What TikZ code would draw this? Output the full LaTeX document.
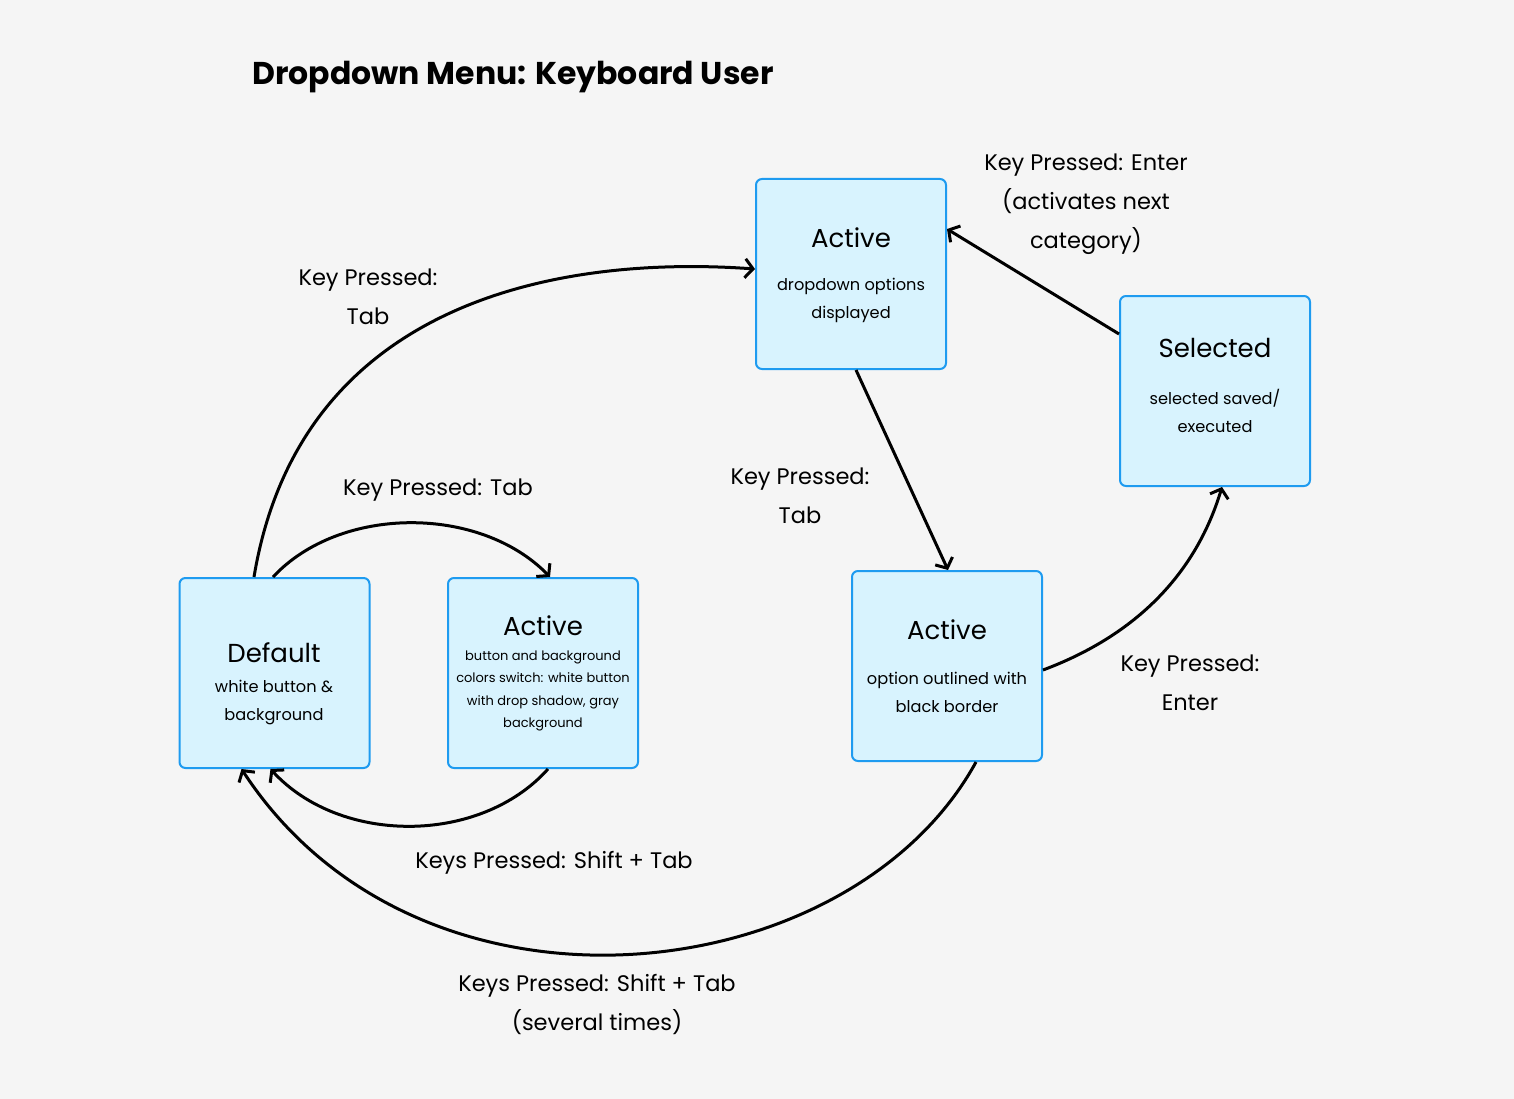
\documentclass[tikz,border=0pt]{standalone}
\usepackage{fontspec}
\setmainfont{Poppins}
\usetikzlibrary{arrows.meta}
\definecolor{bg}{HTML}{F5F5F5}
\definecolor{boxfill}{HTML}{D8F3FE}
\definecolor{boxline}{HTML}{1E9BF0}
\begin{document}
\begin{tikzpicture}[x=1pt,y=-1pt,
  statebox/.style={draw=boxline, fill=boxfill, line width=2pt, rounded corners=6pt, minimum width=190pt, minimum height=190pt, inner sep=0pt},
  conn/.style={line width=3pt, -{Straight Barb[length=8pt,width=19pt,line width=3pt]}},
  lbl/.style={font=\fontsize{22.5}{39}\selectfont, align=center, inner sep=0pt},
  ttl/.style={font=\fontsize{26}{30}\selectfont, inner sep=0pt},
  sub/.style={font=\fontsize{16.2}{28}\selectfont, align=center, inner sep=0pt},
  subsmall/.style={font=\fontsize{13}{22.5}\selectfont, align=center, inner sep=0pt},
  ]
\useasboundingbox[fill=bg] (0,0) rectangle (1514,1099);

\node[font=\bfseries\fontsize{31.5}{36}\selectfont, anchor=west, inner sep=0pt] (title) at (252,77) {Dropdown Menu: Keyboard User};

% boxes
\node[statebox] (def) at (274.5,673) {};
\node[statebox] (act1) at (543,673) {};
\node[statebox] (act2) at (851,274) {};
\node[statebox] (sel) at (1215,391) {};
\node[statebox] (act3) at (947,666) {};

% box texts
\node[ttl] (defT) at (274,653) {Default};
\node[sub] (defS) at (274,703) {white button \&\\background};
\node[ttl] (act1T) at (543,626) {Active};
\node[subsmall] (act1S) at (543,691) {button and background\\colors switch: white button\\with drop shadow, gray\\background};
\node[ttl] (act2T) at (851,238) {Active};
\node[sub] (act2S) at (851,300) {dropdown options\\displayed};
\node[ttl] (selT) at (1215,348) {Selected};
\node[sub] (selS) at (1215,411) {selected saved/\\executed};
\node[ttl] (act3T) at (947,630) {Active};
\node[sub] (act3S) at (947,692) {option outlined with\\black border};

% labels
\node[lbl] (l1) at (368,297) {Key Pressed:\\Tab};
\node[lbl] (l2) at (438,490) {Key Pressed: Tab};
\node[lbl] (l3) at (800,496) {Key Pressed:\\Tab};
\node[lbl] (l4) at (1086,204) {Key Pressed: Enter\\(activates next\\category)};
\node[lbl] (l5) at (1190,683) {Key Pressed:\\Enter};
\node[lbl] (l6) at (554,863) {Keys Pressed: Shift + Tab};
\node[lbl] (l7) at (597,1004) {Keys Pressed: Shift + Tab\\(several times)};

% connectors
\draw[conn] ([xshift=-20.5pt]def.north) .. controls (300,300) and (560,255) .. ([yshift=5pt]act2.west);
\draw[conn] ([xshift=-1.5pt]def.north) .. controls (340,505) and (480,505) .. ([xshift=7pt]act1.north);
\draw[conn] ([xshift=5pt]act1.south) .. controls (480,845) and (340,845) .. ([xshift=-4pt]def.south);
\draw[conn] ([xshift=5pt]act2.south) -- ([xshift=1pt]act3.north);
\draw[conn] ([yshift=-4pt]act3.east) .. controls (1150,630) and (1200,560) .. ([xshift=7pt]sel.south);
\draw[conn] ([yshift=57pt]sel.west) -- ([yshift=45pt]act2.east);
\draw[conn] ([xshift=29pt]act3.south) .. controls (850,992) and (420,1042) .. ([xshift=-33pt]def.south);
\end{tikzpicture}
\end{document}
